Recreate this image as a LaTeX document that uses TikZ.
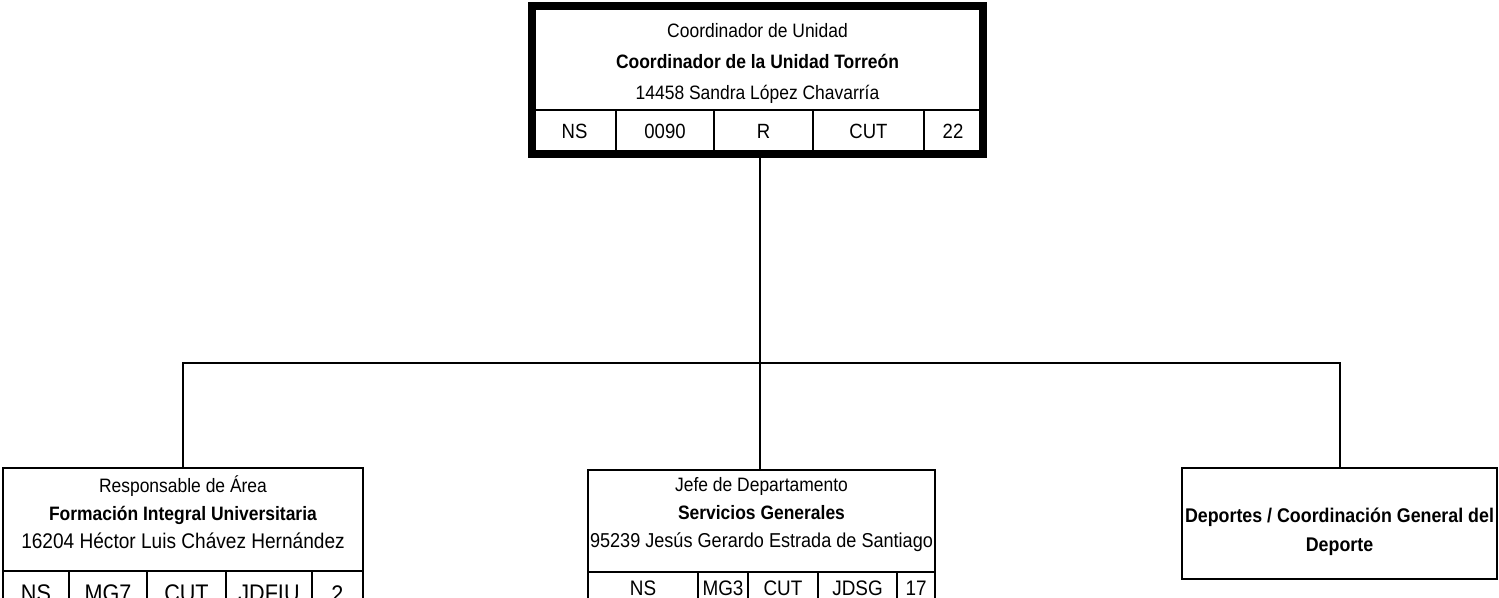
\documentclass[tikz,border=0pt]{standalone}
\usepackage{fontspec}
\setmainfont{Liberation Sans}[FakeStretch=0.9]
\usetikzlibrary{positioning}

\tikzset{
  puesto/.style={draw, line width=1.2pt, inner sep=0pt},
  texto/.style={align=center, inner sep=0pt},
  celda/.style={draw, line width=1pt, inner sep=0pt, minimum height=20pt},
  enlace/.style={line width=1pt}
}

\begin{document}
\begin{tikzpicture}[x=0.5pt, y=-0.5pt, font=\fontsize{9.7}{14}\selectfont]
\useasboundingbox (0,0) rectangle (1499,598);

% coordinador
\node[puesto, line width=1pt, minimum width=224.5pt, minimum height=51.5pt] (coord) at (757.5,58.5) {};
\node[texto, font=\fontsize{9.7}{15.5}\selectfont] (coordt) at (757.5,63)
  {Coordinador de Unidad\\ \textbf{Coordinador de la Unidad Torreón}\\ 14458 Sandra López Chavarría};
\begin{scope}[every node/.style={celda, minimum height=21.5pt, font=\fontsize{10.3}{12}\selectfont}]
\node[minimum width=41.5pt] (tc1) at (574.5,131.5) {NS};
\node[minimum width=49pt] (tc2) at (665,131.5) {0090};
\node[minimum width=49.5pt] (tc3) at (763.5,131.5) {R};
\node[minimum width=55.5pt] (tc4) at (868.5,131.5) {CUT};
\node[minimum width=29pt] (tc5) at (953,131.5) {22};
\end{scope}
\draw[line width=4pt] (coord.north west) rectangle (tc5.south east);

% formacion integral
\node[puesto, minimum width=180pt, minimum height=51.5pt] (fiu) at (183,519.5) {};
\node[texto] (fiut) at (183,512.5)
  {Responsable de Área\\ \textbf{Formación Integral Universitaria}\\
   \fontsize{10.6}{14}\selectfont 16204 Héctor Luis Chávez Hernández};
\begin{scope}[every node/.style={celda, text height=11pt, font=\fontsize{12}{14}\selectfont}]
\node[minimum width=33pt] (fc1) at (36,591) {NS};
\node[minimum width=39pt] (fc2) at (108,591) {MG7};
\node[minimum width=39.5pt] (fc3) at (186.5,591) {CUT};
\node[minimum width=43pt] (fc4) at (269,591) {JDFIU};
\node[minimum width=25.5pt] (fc5) at (337.5,591) {2};
\end{scope}

% servicios generales
\node[puesto, minimum width=173.5pt, minimum height=51pt] (sg) at (761.5,521) {};
\node[texto] (sgt) at (761.5,515)
  {Jefe de Departamento\\ \textbf{Servicios Generales}\\
   \fontsize{10.05}{14}\selectfont 95239 Jesús Gerardo Estrada de Santiago};
\begin{scope}[every node/.style={celda, text depth=3.5pt, font=\fontsize{10.5}{12}\selectfont}]
\node[minimum width=55pt] (sc1) at (643,592) {NS};
\node[minimum width=25pt] (sc2) at (723,592) {MG3};
\node[minimum width=35pt] (sc3) at (783,592) {CUT};
\node[minimum width=39.5pt] (sc4) at (857.5,592) {JDSG};
\node[minimum width=19pt] (sc5) at (916,592) {17};
\end{scope}

% deportes
\node[puesto, minimum width=157.5pt, minimum height=55.5pt] (dep) at (1339.5,523.5) {};
\node[texto, font=\bfseries\fontsize{9.9}{14.5}\selectfont] (dept) at (1339.5,531.5)
  {Deportes / Coordinación General del\\ Deporte};

% lineas
\coordinate (bus) at (760,363);
\draw[enlace] (tc3.south -| bus) -- (bus);
\draw[enlace] (fiu.north) |- (bus) -| (dep.north);
\draw[enlace] (bus) -- (bus |- sg.north);
\end{tikzpicture}
\end{document}
